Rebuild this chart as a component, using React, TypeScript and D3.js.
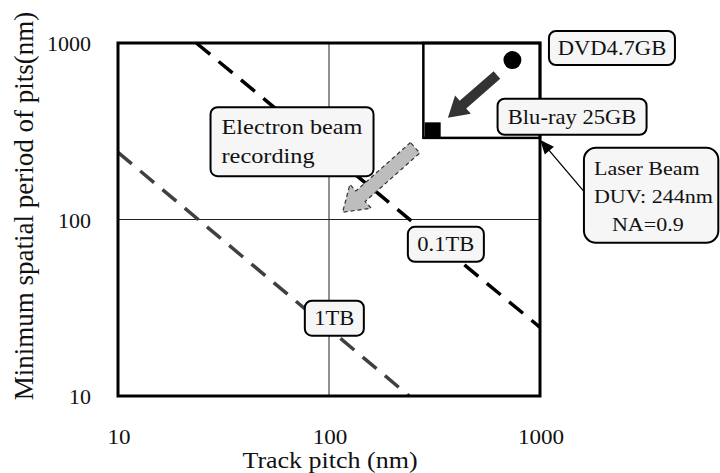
import React from 'react'
import * as d3 from 'd3'

// axis ticks
const xTicks = [10, 100, 1000]
const yTicks = [10, 100, 1000]

// capacity lines (track pitch, min spatial period)
const line01TB = [[23.5, 1000], [1000, 24.5]]
const line1TB = [[10, 240], [240, 10]]

// disc points
const dvdPoint = [740, 800]
const bluPoint = [310, 320]

// laser beam region box (lower-left, upper-right)
const laserRegion = [[280, 290], [1000, 1000]]

// arrows: [tail, tip] in data units
const darkArrow = [[625, 659], [366, 377]]
const grayArrow = [[256, 255], [116, 110]]
const thinArrow = [[1633, 142], [1003, 282]]

// label boxes: anchor (data units) is the box centre
const labels = [
  { lines: ['DVD4.7GB'], at: [2193, 937], w: 126, h: 34, size: 20 },
  { lines: ['Blu-ray 25GB'], at: [1419, 382], w: 149, h: 36, size: 20 },
  { lines: ['Electron beam', 'recording'], at: [66.8, 276], w: 163, h: 69, align: 'start', size: 21.5 },
  { lines: ['0.1TB'], at: [358, 72.3], w: 76, h: 35, size: 20 },
  { lines: ['1TB'], at: [106, 27.6], w: 59, h: 35, size: 20 },
]
const laserLabel = ['Laser Beam', 'DUV: 244nm', 'NA=0.9']

const FONT = '"Liberation Serif", "Times New Roman", serif'

const x = d3.scaleLog().domain([10, 1000]).range([118, 540])
const y = d3.scaleLog().domain([10, 1000]).range([396, 43])

function Txt({ px, py, size, anchor = 'start', sx = 1.13, children }: any) {
  return (
    <text
      transform={`translate(${px},${py}) scale(${sx},1)`}
      fontSize={size}
      fontFamily={FONT}
      textAnchor={anchor}
      fill="#111"
    >
      {children}
    </text>
  )
}

function arrowPath(tail: number[], tip: number[], sw: number, hw: number, hl: number) {
  const x0 = x(tail[0]), y0 = y(tail[1]), x1 = x(tip[0]), y1 = y(tip[1])
  const len = Math.hypot(x1 - x0, y1 - y0)
  const ux = (x1 - x0) / len, uy = (y1 - y0) / len
  const nx = -uy, ny = ux
  const bx = x1 - ux * hl, by = y1 - uy * hl
  const pts = [
    [x0 + nx * sw, y0 + ny * sw],
    [bx + nx * sw, by + ny * sw],
    [bx + nx * hw, by + ny * hw],
    [x1, y1],
    [bx - nx * hw, by - ny * hw],
    [bx - nx * sw, by - ny * sw],
    [x0 - nx * sw, y0 - ny * sw],
  ]
  return d3.line()(pts as [number, number][]) + 'Z'
}

export default function App() {
  const line = d3.line<number[]>().x(d => x(d[0])).y(d => y(d[1]))
  const [l, r] = x.range()
  const [b, t] = y.range()

  const tail = thinArrow[0], tip = thinArrow[1]
  const tx0 = x(tail[0]), ty0 = y(tail[1]), tx1 = x(tip[0]), ty1 = y(tip[1])
  const tl = Math.hypot(tx1 - tx0, ty1 - ty0)
  const ux = (tx1 - tx0) / tl, uy = (ty1 - ty0) / tl

  // laser beam label box
  const lbL = tx0 - 1
  const lbR = x(7000)
  const lbT = y(255)
  return (
    <svg width={720} height={473} style={{ position: 'absolute', left: 0, top: 0, background: '#fff' }}>
      {/* grid */}
      <line x1={x(100)} x2={x(100)} y1={t} y2={b} stroke="#222" strokeWidth={1} />
      <line x1={l} x2={r} y1={y(100)} y2={y(100)} stroke="#222" strokeWidth={1} />

      {/* capacity lines */}
      <path d={line(line01TB) || ''} stroke="#000" strokeWidth={3.5} strokeDasharray="18 11" fill="none" />
      <path d={line(line1TB) || ''} stroke="#404040" strokeWidth={3.5} strokeDasharray="18 11" fill="none" />

      {/* laser region */}
      <rect
        x={x(laserRegion[0][0])}
        y={y(laserRegion[1][1])}
        width={x(laserRegion[1][0]) - x(laserRegion[0][0])}
        height={y(laserRegion[0][1]) - y(laserRegion[1][1])}
        fill="none"
        stroke="#000"
        strokeWidth={2.5}
      />

      {/* disc points */}
      <circle cx={x(dvdPoint[0])} cy={y(dvdPoint[1])} r={9} fill="#000" />
      <rect x={x(bluPoint[0]) - 8} y={y(bluPoint[1]) - 8} width={16} height={16} fill="#000" />

      {/* arrows */}
      <path d={arrowPath(darkArrow[0], darkArrow[1], 5, 12, 20)} fill="#333" />
      <path d={arrowPath(grayArrow[0], grayArrow[1], 7, 16, 24)} fill="#bdbdbd" stroke="#333" strokeWidth={1.2} strokeDasharray="4 3" />

      {/* frame */}
      <rect x={l} y={t} width={r - l} height={b - t} fill="none" stroke="#000" strokeWidth={3} />

      {/* thin arrow to region */}
      <line x1={tx0} y1={ty0} x2={tx1 - ux * 12} y2={ty1 - uy * 12} stroke="#000" strokeWidth={1.3} />
      <path
        d={`M${tx1},${ty1}L${tx1 - ux * 14 - uy * 6},${ty1 - uy * 14 + ux * 6}L${tx1 - ux * 14 + uy * 6},${ty1 - uy * 14 - ux * 6}Z`}
        fill="#000"
      />

      {/* label boxes */}
      {labels.map((lb, i) => {
        const cx = x(lb.at[0]), cy = y(lb.at[1])
        const lh = 29
        return (
          <g key={i}>
            <rect x={cx - lb.w / 2} y={cy - lb.h / 2} width={lb.w} height={lb.h} rx={7} fill="#f6f6f6" stroke="#000" strokeWidth={2} />
            {lb.lines.map((s, j) => {
              const py = cy + 7 + (j - (lb.lines.length - 1) / 2) * lh
              return lb.align === 'start' ? (
                <Txt key={j} px={cx - lb.w / 2 + 11} py={py} size={lb.size}>{s}</Txt>
              ) : (
                <Txt key={j} px={cx} py={py} size={lb.size} anchor="middle">{s}</Txt>
              )
            })}
          </g>
        )
      })}

      {/* laser beam box */}
      <rect x={lbL} y={lbT} width={lbR - lbL} height={95} rx={12} fill="#f6f6f6" stroke="#000" strokeWidth={2} />
      <Txt px={lbL + 10} py={lbT + 27} size={19.5}>{laserLabel[0]}</Txt>
      <Txt px={lbL + 10} py={lbT + 55} size={19.5}>{laserLabel[1]}</Txt>
      <Txt px={lbL + 28} py={lbT + 83} size={19.5}>{laserLabel[2]}</Txt>

      {/* tick labels */}
      {xTicks.map(v => (
        <Txt key={v} px={x(v) + 1} py={444} size={22} sx={1.05} anchor="middle">{v}</Txt>
      ))}
      {yTicks.map(v => (
        <Txt key={v} px={91} py={y(v) + 8} size={22} sx={1.0} anchor="end">{v}</Txt>
      ))}

      {/* axis titles */}
      <Txt px={330} py={468} size={23} anchor="middle">Track pitch (nm)</Txt>
      <text
        transform={`translate(33,206) rotate(-90)`}
        fontSize={27}
        fontFamily={FONT}
        textAnchor="middle"
        fill="#111"
      >
        Minimum spatial period of pits(nm)
      </text>
    </svg>
  )
}
